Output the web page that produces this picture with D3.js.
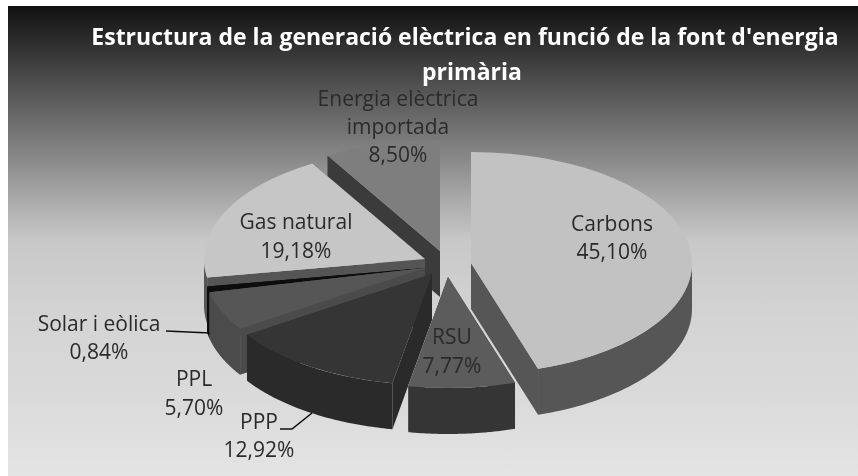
<!DOCTYPE html>
<html><head><meta charset="utf-8">
<script src="https://cdn.jsdelivr.net/npm/d3@7"></script>
<style>html,body{margin:0;padding:0;background:#fff}svg{display:block}text{font-family:"Open Sans",sans-serif}</style>
</head><body><svg id="c" width="858" height="476"></svg>
<script>
// Data
const categories = ["Carbons","RSU","PPP","PPL","Solar i eòlica","Gas natural","Energia elèctrica importada"];
const values = [45.10,7.77,12.92,5.70,0.84,19.18,8.50];
const valueLabels = ["45,10%","7,77%","12,92%","5,70%","0,84%","19,18%","8,50%"];
const titleLines = ["Estructura de la generació elèctrica en funció de la font d'energia","primària"];

// Layout and style
const W=858,H=476,RX=221,RY=111,DEPTH=46;
const centres=[[471,263],[448,277],[432,274],[425,268],[425,268],[425,259],[440,251]];
const topColours=["#c2c2c2","#5b5b5b","#363636","#565656","#0d0d0d","#c6c6c6","#7e7e7e"];
const wallColours=["#575757","#353535","#2a2a2a","#4c4c4c","#0d0d0d","#555555","#3a3a3a"];
const labelPos=[
 {x:612,ys:[231,259],lines:["Carbons"]},
 {x:452,ys:[344,373],lines:["RSU"]},
 {x:259,ys:[429,457],lines:["PPP"]},
 {x:194,ys:[386,415],lines:["PPL"]},
 {x:99,ys:[331,359],lines:["Solar i eòlica"]},
 {x:296,ys:[229,258],lines:["Gas natural"]},
 {x:398,ys:[106,134,162],lines:["Energia elèctrica","importada"]}
];
const leaders=[[[166,331],[210,333]],[[280,429],[292,429],[312,413]]];
const bgStops=[[0,"#111111"],[.2,"#5c5c5c"],[.328,"#8a8a8a"],[.413,"#aaaaaa"],[.498,"#c8c8c8"],[.668,"#d4d4d4"],[.838,"#dadada"],[1,"#e4e4e4"]];

const svg=d3.select("#c");
const defs=svg.append("defs");
const bg=defs.append("linearGradient").attr("id","bg").attr("x1",0).attr("y1",0).attr("x2",0).attr("y2",1);
bgStops.forEach(s=>bg.append("stop").attr("offset",s[0]).attr("stop-color",s[1]));
const blur=defs.append("filter").attr("id","soft").attr("x","-5%").attr("y","-5%").attr("width","110%").attr("height","110%");
blur.append("feGaussianBlur").attr("stdDeviation",0.55);

svg.append("rect").attr("width",W).attr("height",H).attr("fill","#fff");
svg.append("rect").attr("x",8).attr("y",6).attr("width",W-8).attr("height",H-6).attr("fill","url(#bg)");

const g=svg.append("g").attr("filter","url(#soft)");
const arcs=d3.pie().sort(null).value(d=>d)(values);
const pt=(c,a)=>[c[0]+RX*Math.sin(a),c[1]-RY*Math.cos(a)];
const poly=d3.line();
const arcGen=d3.arc().innerRadius(0).outerRadius(RX);

d3.range(values.length-1,-1,-1).forEach(i=>{
  const c=centres[i],a0=arcs[i].startAngle,a1=arcs[i].endAngle;
  const s=g.append("g");
  [a0,a1].forEach(a=>{
    const p=pt(c,a);
    s.append("path").attr("d",poly([c,p,[p[0],p[1]+DEPTH],[c[0],c[1]+DEPTH]])+"Z").attr("fill",wallColours[i]);
  });
  const from=Math.max(a0,Math.PI/2),to=Math.min(a1,Math.PI*1.5);
  if(to>from){
    const rim=d3.range(0,61).map(k=>pt(c,from+(to-from)*k/60));
    const lower=rim.map(p=>[p[0],p[1]+DEPTH]).reverse();
    s.append("path").attr("d",poly(rim.concat(lower))+"Z").attr("fill",wallColours[i]);
  }
  s.append("path")
   .attr("transform",`translate(${c[0]},${c[1]}) scale(1,${RY/RX})`)
   .attr("d",arcGen({startAngle:a0,endAngle:a1}))
   .attr("fill",topColours[i]);
});

g.selectAll("path.leader").data(leaders).join("path").attr("class","leader")
 .attr("d",d=>poly(d)).attr("fill","none").attr("stroke","#111").attr("stroke-width",1.6);

const labels=g.append("g").attr("fill","#2b2b2b").attr("font-size",21).attr("text-anchor","middle");
labelPos.forEach((l,i)=>{
  l.lines.concat([valueLabels[i]]).forEach((t,k)=>{
    labels.append("text").attr("x",l.x).attr("y",l.ys[k]).text(t);
  });
});
const title=g.append("g").attr("fill","#fff").attr("font-size",23).attr("font-weight",700).attr("text-anchor","middle");
title.append("text").attr("x",465).attr("y",45).text(titleLines[0]);
title.append("text").attr("x",472).attr("y",80).text(titleLines[1]);
</script></body></html>
